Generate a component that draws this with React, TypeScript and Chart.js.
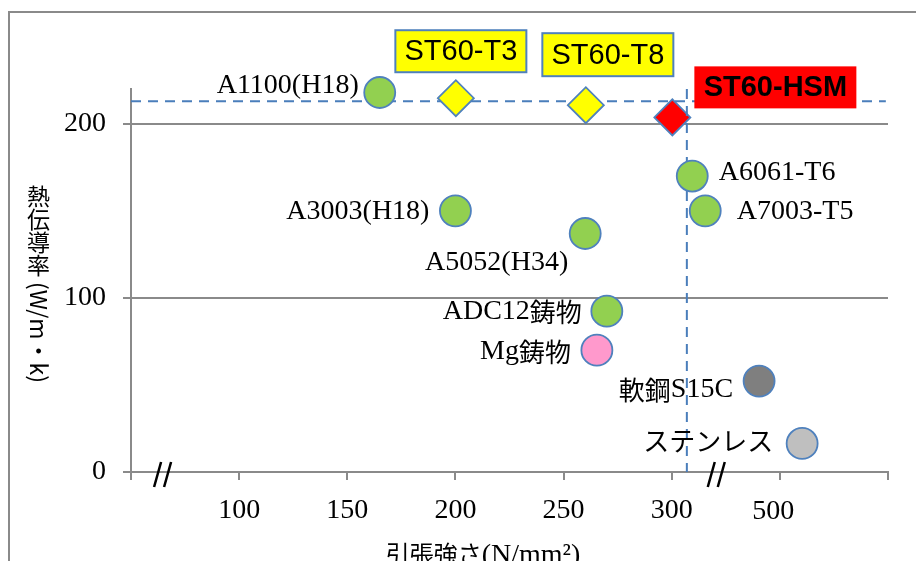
import React, { useEffect, useRef } from 'react';
import { Chart, registerables } from 'chart.js';

Chart.register(...registerables);

// ---- data ----
// x values are positions on the (broken) display axis: 50..400, where the segment
// after the "//" mark stands for the high-strength steels (labelled 500).
const xTickValues = [50, 100, 150, 200, 250, 300, 350, 400];
const xTickLabels = ['', '100', '150', '200', '250', '300', '', ''];
const yTickValues = [0, 100, 200];
const X_MIN = 50;
const X_MAX = 400;
const Y_MIN = 0;
const Y_MAX = 220;

const alloyNames = ['A1100(H18)', 'A3003(H18)', 'A5052(H34)', 'A6061-T6', 'A7003-T5', 'ADC12鋳物', 'Mg鋳物', '軟鋼S15C', 'ステンレス'];
const alloyStrength = [165, 200, 260, 309.5, 315.5, 270, 265.4, 340.4, 360.3];
const alloyConductivity = [218, 150, 137, 170, 150, 92.4, 70, 52.2, 16.4];
const alloyColors = ['#92D050', '#92D050', '#92D050', '#92D050', '#92D050', '#92D050', '#FF99CC', '#7F7F7F', '#BFBFBF'];

const stNames = ['ST60-T3', 'ST60-T8', 'ST60-HSM'];
const stStrength = [200.2, 260.3, 300.3];
const stConductivity = [214.7, 210.7, 203.7];
const stColors = ['#FFFF00', '#FFFF00', '#FF0000'];

const refLineY = 213;
const refLineXStart = 50;
const refLineXEnd = 399;
const refLineX = 307;

const breakValues = [64.6, 320.6];
const extraTickLabel = '500';
const extraTickValue = 347;

const yTitle = '熱伝導率';
const yTitleUnit = '(W/m・k)';
const xTitle = '引張強さ';
const xTitleUnit = '(N/mm²)';

// ---- styles (label offsets relative to their markers) ----
const alloyLabelPos = [
  { dx: -21, dy: -7, align: 'right' },
  { dx: -26, dy: 1, align: 'right' },
  { dx: -17, dy: 29.5, align: 'right' },
  { dx: 26.5, dy: -3, align: 'left' },
  { dx: 31.5, dy: 1, align: 'left' },
  { dx: -25, dy: 1, align: 'right' },
  { dx: -26, dy: 2, align: 'right' },
  { dx: -26, dy: 9, align: 'right' },
  { dx: -29, dy: -2, align: 'right' },
];
const stBoxPos = [
  { dx: 5, dy: -47, w: 131, h: 42, border: true },
  { dx: 22, dy: -50.5, w: 131, h: 43, border: true },
  { dx: 103, dy: -30, w: 162, h: 42, border: false },
];

const LATIN = '"Liberation Serif", "DejaVu Serif", serif';
const CJK = '"Noto Sans CJK JP", sans-serif';
const GRAY = '#8a8a8a';
const BLUE = '#4F81BD';
const DASH = '#4A7EBB';

function isCJK(ch: string) {
  return /[\u3000-\u30ff\u3400-\u9fff\uff00-\uffef]/.test(ch);
}

function runsOf(text: string) {
  const runs: { t: string; c: boolean }[] = [];
  for (const ch of text) {
    const c = isCJK(ch);
    if (runs.length && runs[runs.length - 1].c === c) runs[runs.length - 1].t += ch;
    else runs.push({ t: ch, c });
  }
  return runs;
}

function drawMixed(ctx: CanvasRenderingContext2D, text: string, x: number, y: number, align: string, latinFont: string, cjkFont: string) {
  const runs = runsOf(text);
  let total = 0;
  const widths = runs.map((r) => {
    ctx.font = r.c ? cjkFont : latinFont;
    const w = ctx.measureText(r.t).width;
    total += w;
    return w;
  });
  let cx = align === 'left' ? x : align === 'right' ? x - total : x - total / 2;
  ctx.textAlign = 'left';
  ctx.textBaseline = 'middle';
  runs.forEach((r, i) => {
    ctx.font = r.c ? cjkFont : latinFont;
    ctx.fillText(r.t, cx, y);
    cx += widths[i];
  });
}

const decorPlugin = {
  id: 'decor',
  afterDraw(chart: any) {
    const ctx: CanvasRenderingContext2D = chart.ctx;
    const xs = chart.scales.x;
    const ys = chart.scales.y;
    const area = chart.chartArea;
    ctx.save();

    // outer frame
    ctx.strokeStyle = GRAY;
    ctx.lineWidth = 2;
    ctx.strokeRect(9, 12, 1200, 1200);

    // axis break marks
    ctx.strokeStyle = '#000';
    ctx.lineWidth = 2.5;
    const y0 = ys.getPixelForValue(0);
    breakValues.forEach((v) => {
      const bc = xs.getPixelForValue(v);
      ctx.beginPath();
      ctx.moveTo(bc - 1.5, y0 - 10);
      ctx.lineTo(bc - 8.5, y0 + 15);
      ctx.moveTo(bc + 8.5, y0 - 10);
      ctx.lineTo(bc + 1.5, y0 + 15);
      ctx.stroke();
    });

    // extra tick label "500"
    ctx.fillStyle = '#000';
    drawMixed(ctx, extraTickLabel, xs.getPixelForValue(extraTickValue), area.bottom + 40, 'center', '28px ' + LATIN, '26px ' + CJK);

    // alloy labels
    const metaA = chart.getDatasetMeta(0);
    alloyNames.forEach((name, i) => {
      const pt = metaA.data[i];
      const p = alloyLabelPos[i];
      ctx.fillStyle = '#000';
      drawMixed(ctx, name, pt.x + p.dx, pt.y + p.dy, p.align, '28px ' + LATIN, '26px ' + CJK);
    });

    // ST60 boxes
    const metaS = chart.getDatasetMeta(2);
    stNames.forEach((name, i) => {
      const pt = metaS.data[i];
      const b = stBoxPos[i];
      const cx = pt.x + b.dx;
      const cy = pt.y + b.dy;
      ctx.fillStyle = stColors[i];
      ctx.fillRect(cx - b.w / 2, cy - b.h / 2, b.w, b.h);
      if (b.border) {
        ctx.strokeStyle = BLUE;
        ctx.lineWidth = 2;
        ctx.strokeRect(cx - b.w / 2, cy - b.h / 2, b.w, b.h);
      }
      ctx.fillStyle = '#000';
      ctx.font = (b.border ? '' : 'bold ') + '29px "Liberation Sans", Arial, sans-serif';
      ctx.textAlign = 'center';
      ctx.textBaseline = 'middle';
      ctx.fillText(name, cx, cy + 1);
    });

    // y title (vertical, CJK upright, latin rotated)
    ctx.fillStyle = '#000';
    const tx = 38.5;
    let ty = 185;
    ctx.font = '23px ' + CJK;
    ctx.textAlign = 'center';
    ctx.textBaseline = 'middle';
    for (const ch of yTitle) {
      ctx.fillText(ch, tx, ty + 11.5);
      ty += 23;
    }
    ctx.save();
    ctx.translate(tx, ty + 5);
    ctx.rotate(Math.PI / 2);
    ctx.textAlign = 'left';
    ctx.textBaseline = 'middle';
    ctx.font = '23px ' + CJK;
    ctx.fillText(yTitleUnit, 0, 0);
    ctx.restore();

    // x title
    ctx.font = '24px ' + CJK;
    const w1 = ctx.measureText(xTitle).width;
    ctx.font = '28px ' + LATIN;
    const w2 = ctx.measureText(xTitleUnit).width;
    const startX = 483 - (w1 + w2) / 2;
    ctx.textAlign = 'left';
    ctx.textBaseline = 'middle';
    ctx.font = '24px ' + CJK;
    ctx.fillText(xTitle, startX, 554);
    ctx.font = '28px ' + LATIN;
    ctx.fillText(xTitleUnit, startX + w1, 556);

    ctx.restore();
  },
};

export default function App() {
  const ref = useRef<HTMLCanvasElement | null>(null);
  useEffect(() => {
    const canvas = ref.current;
    if (!canvas) return;
    const chart = new Chart(canvas, {
      type: 'scatter',
      data: {
        datasets: [
          {
            label: 'alloys',
            data: alloyStrength.map((x, i) => ({ x, y: alloyConductivity[i] })),
            pointStyle: 'circle',
            pointRadius: 15.5,
            pointBackgroundColor: alloyColors,
            pointBorderColor: BLUE,
            pointBorderWidth: 1.8,
            clip: false,
            order: 0,
          } as any,
          {
            label: 'vref',
            data: [{ x: refLineX, y: Y_MAX }, { x: refLineX, y: Y_MIN }],
            showLine: true,
            borderColor: DASH,
            borderWidth: 2,
            borderDash: [10, 7],
            pointRadius: 0,
            order: 1,
          } as any,
          {
            label: 'ST60',
            data: stStrength.map((x, i) => ({ x, y: stConductivity[i] })),
            pointStyle: 'rectRot',
            pointRadius: 18,
            pointBackgroundColor: stColors,
            pointBorderColor: BLUE,
            pointBorderWidth: 1.8,
            clip: false,
            order: 2,
          } as any,
          {
            label: 'href',
            data: [{ x: refLineXStart, y: refLineY }, { x: refLineXEnd, y: refLineY }],
            showLine: true,
            borderColor: DASH,
            borderWidth: 2,
            borderDash: [10, 7],
            pointRadius: 0,
            order: 3,
          } as any,
        ],
      },
      options: {
        responsive: false,
        animation: false,
        events: [],
        layout: { padding: { left: 0, top: 89, right: 28, bottom: 0 } },
        plugins: { legend: { display: false }, tooltip: { enabled: false } },
        scales: {
          x: {
            type: 'linear',
            min: X_MIN,
            max: X_MAX,
            afterBuildTicks: (s: any) => {
              s.ticks = xTickValues.map((v) => ({ value: v }));
            },
            afterFit: (s: any) => {
              s.height = 89;
            },
            grid: { drawOnChartArea: false, drawTicks: true, tickLength: 8, color: GRAY, lineWidth: 2 },
            border: { display: true, color: GRAY, width: 2 },
            ticks: {
              autoSkip: false,
              maxRotation: 0,
              padding: 14,
              color: '#000',
              font: { family: LATIN, size: 28 },
              callback: (v: any) => {
                const i = xTickValues.indexOf(Number(v));
                return i >= 0 ? xTickLabels[i] : '';
              },
            },
          },
          y: {
            type: 'linear',
            min: Y_MIN,
            max: Y_MAX,
            afterBuildTicks: (s: any) => {
              s.ticks = yTickValues.map((v) => ({ value: v }));
            },
            afterFit: (s: any) => {
              s.width = 131;
            },
            grid: { drawOnChartArea: true, drawTicks: true, tickLength: 8, color: GRAY, lineWidth: 2 },
            border: { display: true, color: GRAY, width: 2 },
            ticks: {
              padding: 17,
              color: '#000',
              font: { family: LATIN, size: 28 },
              callback: (v: any) => String(v),
            },
          },
        },
      },
      plugins: [decorPlugin],
    } as any);
    let alive = true;
    if ((document as any).fonts) {
      Promise.all([
        (document as any).fonts.load('28px "Liberation Serif"'),
        (document as any).fonts.load('24px "Noto Sans CJK JP"', '熱伝導率'),
        (document as any).fonts.load('29px "Liberation Sans"'),
        (document as any).fonts.load('bold 29px "Liberation Sans"'),
      ]).then(() => {
        if (alive) chart.update();
      }).catch(() => {});
    }
    return () => {
      alive = false;
      chart.destroy();
    };
  }, []);
  return (
    <div style={{ position: 'fixed', left: 0, top: 0, width: 916, height: 561, background: '#fff' }}>
      <canvas ref={ref} width={916} height={561} style={{ display: 'block' }} />
    </div>
  );
}
